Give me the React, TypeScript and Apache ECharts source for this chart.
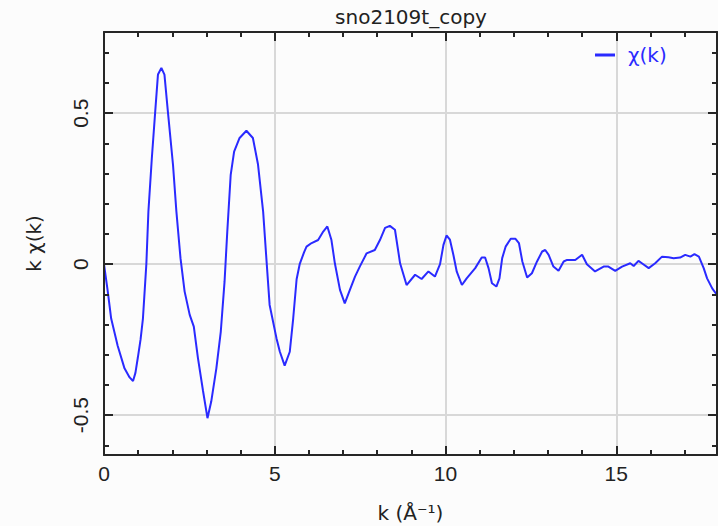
import React, { useEffect, useRef } from "react";
import * as echarts from "echarts";

const titleText = "sno2109t_copy";
const seriesName = "χ(k)";
const xAxisName = "k (Å⁻¹)";
const yAxisName = "k χ(k)";

const kValues = [
  0.0, 0.11, 0.21, 0.4, 0.6, 0.75, 0.85, 0.92, 0.99, 1.07, 1.14, 1.24, 1.3, 1.4, 1.5, 1.58, 1.68, 1.77,
  1.87, 2.02, 2.12, 2.24, 2.36, 2.51, 2.63, 2.75, 2.9, 3.03, 3.14, 3.29, 3.42, 3.53, 3.61, 3.71, 3.81,
  3.97, 4.17, 4.36, 4.51, 4.66, 4.76, 4.85, 5.05, 5.15, 5.29, 5.44, 5.54, 5.64, 5.73, 5.86, 5.93, 6.08,
  6.27, 6.42, 6.54, 6.66, 6.76, 6.91, 7.05, 7.2, 7.35, 7.49, 7.69, 7.93, 8.08, 8.23, 8.37, 8.52, 8.67,
  8.86, 9.11, 9.3, 9.5, 9.69, 9.84, 9.94, 10.03, 10.13, 10.23, 10.33, 10.48, 10.62, 10.87, 11.06, 11.16,
  11.26, 11.36, 11.49, 11.58, 11.66, 11.76, 11.91, 12.05, 12.15, 12.25, 12.39, 12.53, 12.68, 12.83, 12.92,
  13.02, 13.16, 13.31, 13.46, 13.56, 13.8, 14.0, 14.14, 14.38, 14.63, 14.77, 14.97, 15.17, 15.41, 15.51,
  15.65, 15.75, 15.95, 16.14, 16.34, 16.53, 16.68, 16.87, 17.02, 17.17, 17.29, 17.42, 17.56, 17.66, 17.81,
  17.95,
];

const chiValues = [
  0.0, -0.09, -0.18, -0.27, -0.345, -0.375, -0.387, -0.36, -0.31, -0.25, -0.18, 0.0, 0.174, 0.35, 0.506,
  0.628, 0.65, 0.628, 0.506, 0.33, 0.174, 0.02, -0.09, -0.168, -0.207, -0.31, -0.42, -0.51, -0.455,
  -0.345, -0.223, -0.058, 0.108, 0.296, 0.373, 0.418, 0.442, 0.418, 0.33, 0.174, 0.01, -0.135, -0.245,
  -0.29, -0.336, -0.29, -0.18, -0.05, 0.0, 0.04, 0.058, 0.07, 0.08, 0.108, 0.125, 0.08, 0.003, -0.085,
  -0.13, -0.085, -0.041, -0.008, 0.036, 0.047, 0.08, 0.12, 0.127, 0.114, 0.003, -0.069, -0.035, -0.049,
  -0.024, -0.041, 0.0, 0.064, 0.095, 0.081, 0.031, -0.025, -0.069, -0.047, -0.013, 0.022, 0.022, -0.013,
  -0.063, -0.074, -0.047, 0.02, 0.058, 0.084, 0.084, 0.07, 0.009, -0.044, -0.03, 0.009, 0.042, 0.047,
  0.031, -0.008, -0.022, 0.009, 0.014, 0.014, 0.031, 0.0, -0.024, -0.008, -0.008, -0.022, -0.008, 0.003,
  -0.006, 0.011, 0.003, -0.013, 0.003, 0.025, 0.023, 0.02, 0.022, 0.031, 0.025, 0.033, 0.025, -0.013,
  -0.047, -0.08, -0.102,
];

const xRange = [0, 17.95];
const yRange = [-0.632, 0.769];
const xMajorStep = 5;
const yMajorStep = 0.5;

const frameColor = "#262626";
const gridColor = "#d8d8d8";
const lineColor = "#2a2aff";

const isMultiple = (v: number, step: number) => Math.abs(v / step - Math.round(v / step)) < 1e-6;

export default function App() {
  const ref = useRef<HTMLDivElement>(null);
  useEffect(() => {
    if (!ref.current) return;
    const chart = echarts.init(ref.current, undefined, { renderer: "svg" });
    const data = kValues.map((k, i) => [k, chiValues[i]]);

    const tickFont = { fontFamily: "Liberation Sans", fontSize: 21, color: "#222" };
    const nameFont = { fontFamily: "DejaVu Sans", fontSize: 20, color: "#222" };

    const tickStyle = { color: frameColor, width: 2 };
    const emptyLabel = { show: true, margin: 0, fontSize: 1, formatter: () => "" };

    // x axis carrying grid lines, labels and name (drawn underneath)
    const xBase = {
      type: "value",
      position: "bottom",
      z: 0,
      min: xRange[0],
      max: xRange[1],
      interval: xMajorStep,
      axisLine: { show: false, onZero: false },
      axisTick: { show: false },
      axisLabel: {
        show: true,
        margin: 8,
        ...tickFont,
        formatter: (v: number) => (isMultiple(v, xMajorStep) ? String(Math.round(v)) : ""),
      },
      splitLine: { show: true, lineStyle: { color: gridColor, width: 2 } },
      name: xAxisName,
      nameLocation: "middle",
      nameGap: 48,
      nameTextStyle: { ...nameFont },
    };
    const xFrame = (pos: "bottom" | "top") => ({
      type: "value",
      position: pos,
      z: 5,
      min: xRange[0],
      max: xRange[1],
      interval: xMajorStep,
      axisLine: { show: true, onZero: false, lineStyle: { color: frameColor, width: 2 } },
      axisTick: { show: true, inside: true, length: 9, lineStyle: tickStyle },
      minorTick: { show: true, splitNumber: 5, length: 5, lineStyle: tickStyle },
      axisLabel: emptyLabel,
      splitLine: { show: false },
    });
    const yBase = {
      type: "value",
      position: "left",
      z: 0,
      min: yRange[0],
      max: yRange[1],
      minInterval: yMajorStep,
      maxInterval: yMajorStep,
      axisLine: { show: false, onZero: false },
      axisTick: { show: false },
      axisLabel: {
        show: true,
        rotate: 90,
        margin: 13,
        ...tickFont,
        formatter: (v: number) => (isMultiple(v, yMajorStep) ? String(Math.round(v * 10) / 10) : ""),
      },
      splitLine: { show: true, lineStyle: { color: gridColor, width: 2 } },
      name: yAxisName,
      nameLocation: "middle",
      nameRotate: 90,
      nameGap: 60,
      nameTextStyle: { ...nameFont },
    };
    const yFrame = (pos: "left" | "right") => ({
      type: "value",
      position: pos,
      z: 5,
      min: yRange[0],
      max: yRange[1],
      minInterval: yMajorStep,
      maxInterval: yMajorStep,
      axisLine: { show: true, onZero: false, lineStyle: { color: frameColor, width: 2 } },
      axisTick: { show: true, inside: true, length: 9, lineStyle: tickStyle },
      minorTick: { show: true, splitNumber: 5, length: 5, lineStyle: tickStyle },
      axisLabel: emptyLabel,
      splitLine: { show: false },
    });

    chart.setOption({
      animation: false,
      backgroundColor: "#fcfcfc",
      title: {
        text: titleText,
        left: 406,
        top: 2,
        textAlign: "center",
        textStyle: { fontFamily: "DejaVu Sans", fontSize: 20, fontWeight: "normal", color: "#222" },
      },
      legend: {
        left: 590,
        top: 40,
        icon: "rect",
        itemWidth: 20,
        itemHeight: 3,
        data: [seriesName],
        textStyle: {
          color: lineColor,
          fontFamily: "DejaVu Sans",
          fontSize: 20,
          padding: [0, 0, 0, 8],
        },
      },
      grid: {
        left: 104,
        right: 1,
        top: 32,
        bottom: 71,
        containLabel: false,
        outerBoundsMode: "none",
      },
      xAxis: [xBase, xFrame("bottom"), xFrame("top")],
      yAxis: [yBase, yFrame("left"), yFrame("right")],
      series: [
        {
          name: seriesName,
          type: "line",
          xAxisIndex: 0,
          yAxisIndex: 0,
          z: 3,
          data,
          showSymbol: false,
          symbol: "none",
          lineStyle: { color: lineColor, width: 2 },
          itemStyle: { color: lineColor },
        },
      ],
    });
    return () => chart.dispose();
  }, []);
  return (
    <div
      ref={ref}
      style={{ position: "absolute", left: 0, top: 0, width: 718, height: 526 }}
    />
  );
}
